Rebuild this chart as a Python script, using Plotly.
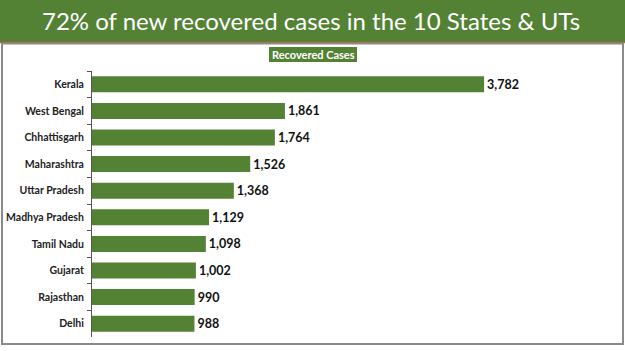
import plotly.graph_objects as go

states = ["Kerala", "West Bengal", "Chhattisgarh", "Maharashtra", "Uttar Pradesh",
          "Madhya Pradesh", "Tamil Nadu", "Gujarat", "Rajasthan", "Delhi"]
recovered = [3782, 1861, 1764, 1526, 1368, 1129, 1098, 1002, 990, 988]
title_text = "72% of new recovered cases in the 10 States & UTs"
legend_text = "Recovered Cases"

GREEN = "#548235"
W, H = 625, 351
L, R, T, B = 92, 25, 71, 14
pw, ph = W - L - R, H - T - B

def px(x):
    return (x - L) / pw

def py(y):
    return (H - B - y) / ph

fig = go.Figure(go.Bar(
    x=recovered, y=states, orientation="h",
    marker=dict(color=GREEN, line=dict(width=0)),
    texttemplate="%{x:,}", textposition="outside",
    textfont=dict(family="Lato", size=12.5, color="#111", weight="bold"),
    cliponaxis=False, hoverinfo="skip",
))

shapes = [
    dict(type="rect", xref="paper", yref="paper", x0=px(0), x1=px(W), y0=py(42), y1=py(0),
         fillcolor=GREEN, line=dict(width=0), layer="below"),
    dict(type="line", xref="paper", yref="paper", x0=px(0), x1=px(W), y0=py(42.5), y1=py(42.5),
         line=dict(color="#b8642a", width=1.5)),
    dict(type="rect", xref="paper", yref="paper", x0=px(2), x1=px(623), y0=py(344), y1=py(43.5),
         line=dict(color="#8a8a8a", width=2), fillcolor="rgba(0,0,0,0)"),
    dict(type="rect", xref="paper", yref="paper", x0=px(269), x1=px(357), y0=py(62), y1=py(47),
         fillcolor=GREEN, line=dict(width=0)),
]

annotations = [
    dict(text=title_text, xref="paper", yref="paper", x=px(311), y=py(21),
         xanchor="center", yanchor="middle", showarrow=False,
         font=dict(family="Lato", size=24, color="white")),
    dict(text="<b>" + legend_text + "</b>", xref="paper", yref="paper", x=px(313), y=py(54.5),
         xanchor="center", yanchor="middle", showarrow=False,
         font=dict(family="Lato", size=11, color="white")),
]

fig.update_layout(
    width=W, height=H, margin=dict(l=L, r=R, t=T, b=B, autoexpand=False),
    paper_bgcolor="white", plot_bgcolor="white",
    showlegend=False, bargap=0.4,
    shapes=shapes, annotations=annotations,
    font=dict(family="Lato"),
)
fig.update_xaxes(range=[0, 4900], visible=False, showgrid=False, zeroline=False,
                 automargin=False)
fig.update_yaxes(autorange="reversed", showgrid=False, zeroline=False, automargin=False,
                 showline=True, linecolor="#555", linewidth=1,
                 ticks="outside", tickson="boundaries", ticklen=4, tickcolor="#555",
                 ticklabelstandoff=5,
                 tickfont=dict(family="Lato", size=10.5, color="#222", weight="bold"))

fig.write_html("out.html")
